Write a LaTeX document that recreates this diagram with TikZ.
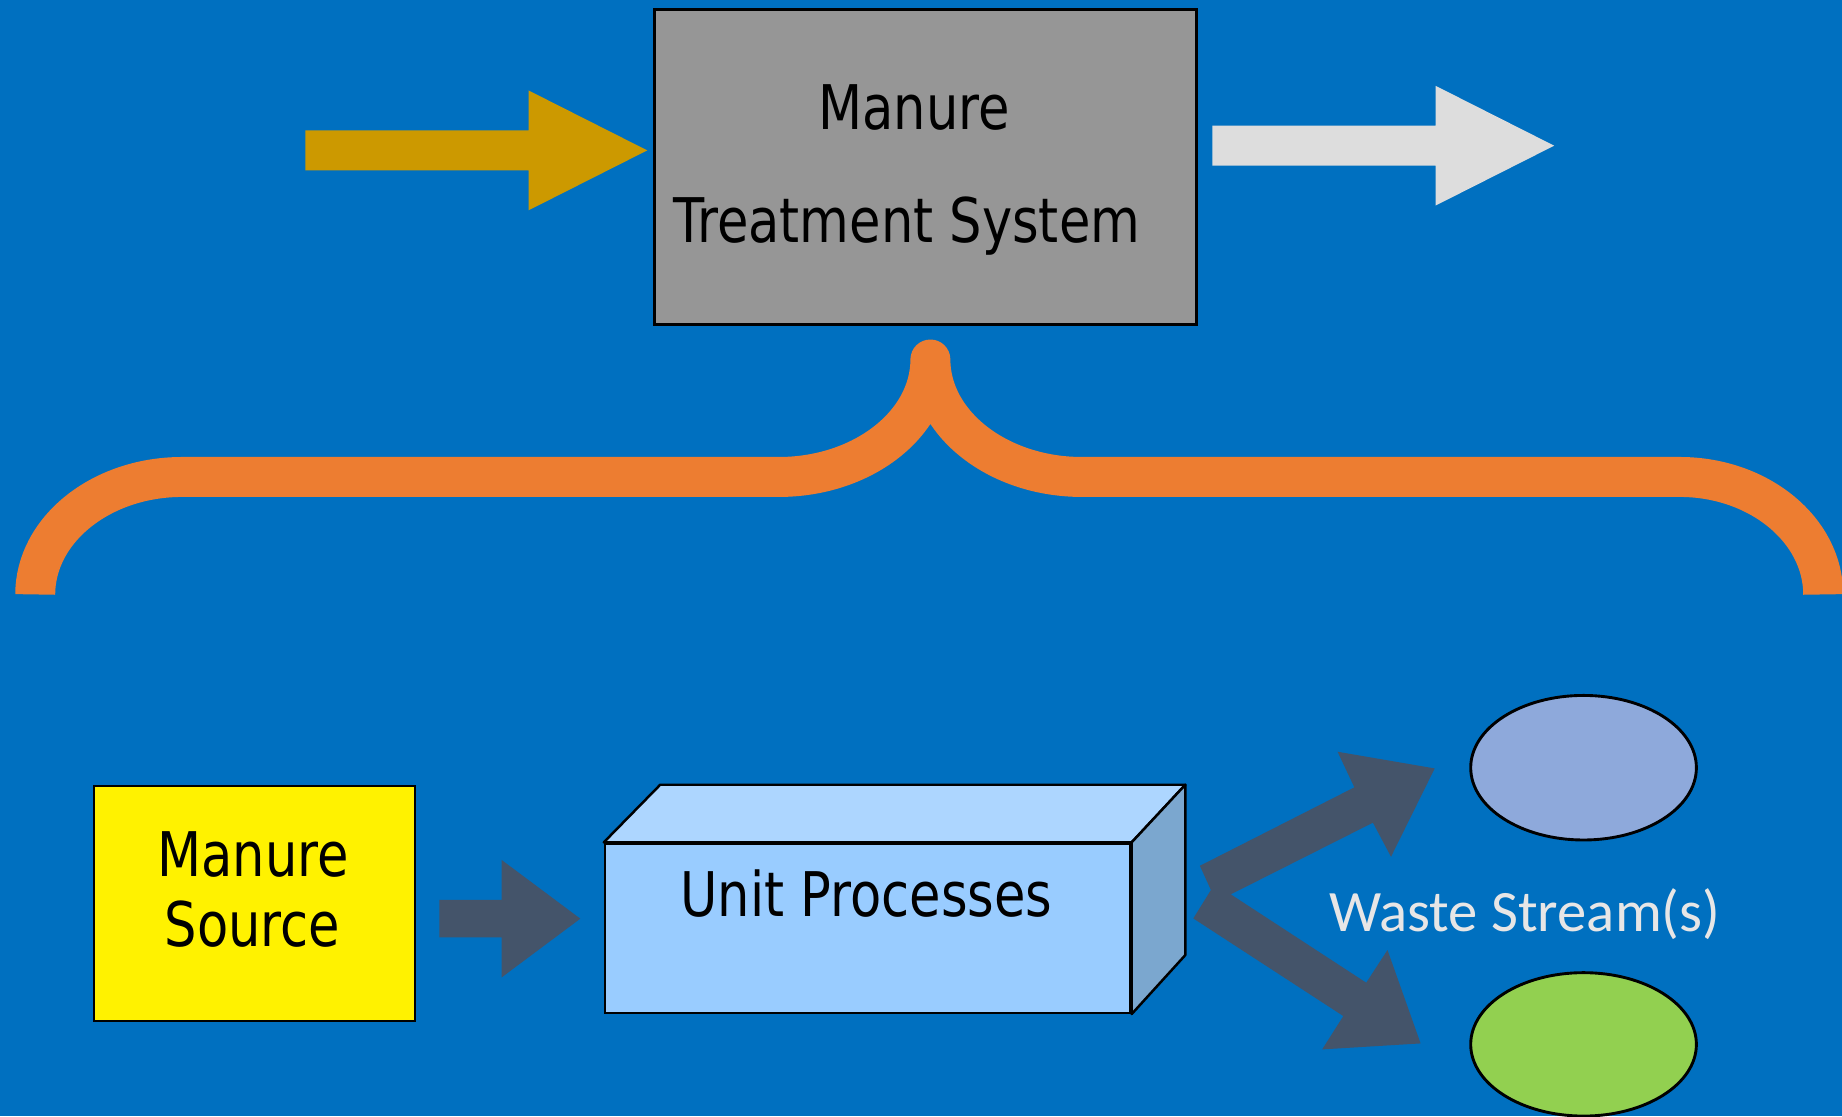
\documentclass[tikz,border=0pt]{standalone}
\usepackage{fontspec}
\setmainfont{DejaVu Sans}[FakeStretch=0.83]
\newfontfamily\calfont{Carlito}
\usetikzlibrary{shapes.geometric}
\definecolor{bgblue}{HTML}{0070C0}
\definecolor{boxgray}{HTML}{969696}
\definecolor{goldarrow}{HTML}{CC9900}
\definecolor{lightarrow}{HTML}{DDDDDD}
\definecolor{bracecol}{HTML}{ED7D31}
\definecolor{darkarrow}{HTML}{44546A}
\definecolor{frontblue}{HTML}{99CCFF}
\definecolor{topblue}{HTML}{ADD6FF}
\definecolor{sideblue}{HTML}{7BA7CF}
\definecolor{ellblue}{HTML}{8EA9DB}
\definecolor{ellgreen}{HTML}{92D050}
\definecolor{wastetext}{HTML}{E7E6E6}
\tikzset{
  boxstyle/.style={draw=black, line width=0.6pt, inner sep=0pt, anchor=north west},
  labeltext/.style={anchor=base, inner sep=0pt, font=\fontsize{14.9}{18}\selectfont, text=black},
  blockarrow/.style={draw=none},
  streamell/.style={ellipse, draw=black, line width=0.7pt, inner sep=0pt, minimum width=1.92cm},
  bracestyle/.style={draw=bracecol, line width=0.34cm, line join=round, line cap=butt}
}
\begin{document}
\begin{tikzpicture}[x=0.01cm,y=-0.01cm]
\fill[bgblue] (0,0) rectangle (1568,950);
\useasboundingbox (0,0) rectangle (1568,950);

% top system box
\node[boxstyle, fill=boxgray, minimum width=4.61cm, minimum height=2.68cm] (mts) at (556,7) {};
\node[labeltext] (mtsA) at (778,110) {Manure};
\node[labeltext] (mtsB) at (772,206) {Treatment System};

% input / output arrows
\fill[goldarrow] (260,111)--(450,111)--(450,77)--(551,128)--(450,179)--(450,145)--(260,145)--cycle;
\fill[lightarrow] (1032,107)--(1222,107)--(1222,73)--(1323,124)--(1222,175)--(1222,141)--(1032,141)--cycle;

% brace
\draw[bracestyle] (30,506) .. controls (30,451) and (86,406) .. (155,406) -- (663,406)
  .. controls (734,406) and (792,361) .. (792,306)
  .. controls (792,361) and (850,406) .. (921,406) -- (1430,406)
  .. controls (1497,406) and (1552,451) .. (1552,506);

% manure source
\node[boxstyle, fill=yellow, minimum width=2.73cm, minimum height=2.00cm] (src) at (79,668) {};
\node[labeltext] (srcA) at (215.5,746) {Manure};
\node[labeltext] (srcB) at (215,806) {Source};

% arrow to unit processes
\fill[darkarrow] (374,766)--(427,766)--(427,732)--(494,782)--(427,832)--(427,798)--(374,798)--cycle;

% unit processes 3D box
\node[boxstyle, fill=frontblue, minimum width=4.47cm, minimum height=1.44cm] (unit) at (514,717) {};
\draw[fill=topblue, line width=0.6pt, line join=round] (unit.north west) -- (562,668) -- (1009,668) -- (unit.north east) -- cycle;
\draw[fill=sideblue, line width=0.6pt, line join=round] (unit.north east) -- (1009,668) -- (1009,813) -- (unit.south east) -- cycle;
\node[labeltext] (unitlbl) at (737.5,780) {Unit Processes};

% branching arrow
\fill[darkarrow] (1021.4,737.0)--(1152.9,670.2)--(1138.6,639.9)--(1221.3,654.1)--(1184.1,729.3)--(1168.7,700.3)--(1047.7,761.3)--(1163.0,836.5)--(1181.1,808.7)--(1209.3,888.2)--(1125.5,893.3)--(1143.5,864.9)--(1015.8,781.8)--(1030.8,757.6)--cycle;

% waste streams
\node[streamell, fill=ellblue, minimum height=1.23cm] (ws1) at (1348,653.5) {};
\node[streamell, fill=ellgreen, minimum height=1.22cm] (ws2) at (1348,889) {};
\node[anchor=base, inner sep=0pt, text=wastetext, font=\calfont\fontsize{14.2}{17}\selectfont] (wslbl) at (1298,793) {Waste Stream(s)};
\end{tikzpicture}
\end{document}
